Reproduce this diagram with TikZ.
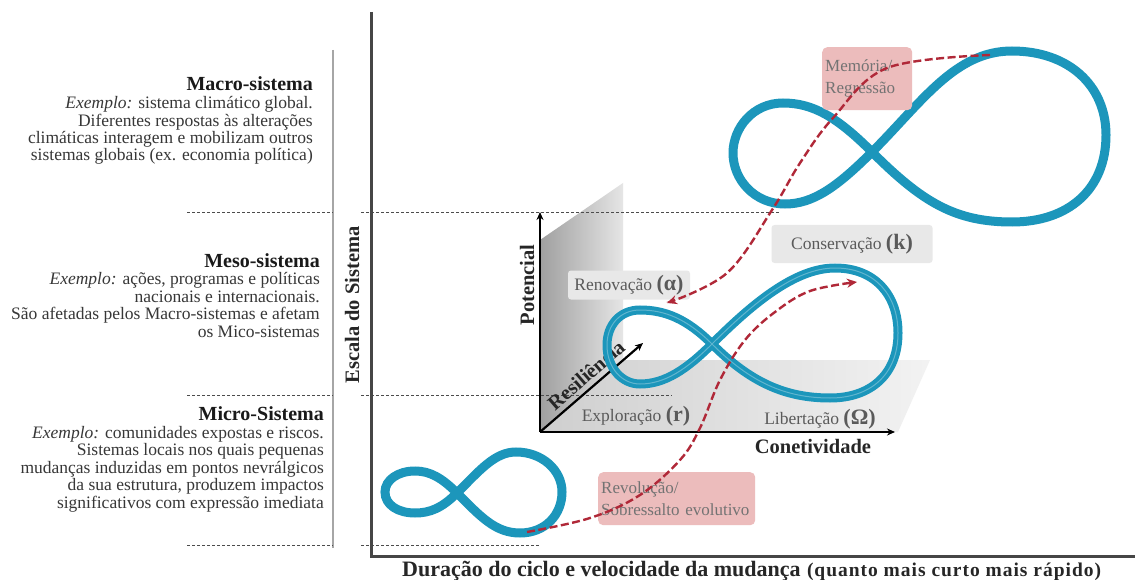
\documentclass[tikz,border=0pt]{standalone}
\usepackage{fontspec}
\setmainfont{Liberation Serif}
\usetikzlibrary{arrows.meta}
\definecolor{loopteal}{RGB}{28,150,187}
\definecolor{cyclered}{RGB}{176,40,56}
\definecolor{pinkbox}{RGB}{236,188,188}
\definecolor{axisgray}{RGB}{70,70,70}
\definecolor{labelgray}{RGB}{90,90,90}
\definecolor{bodygray}{RGB}{55,55,55}

\begin{document}
\begin{tikzpicture}[x=1pt,y=-1pt,
  bodytext/.style={font=\fontsize{17.5}{17.4}\selectfont, align=right, inner sep=0pt, text=bodygray, anchor=base east},
  leveltitle/.style={font=\fontsize{20}{20}\selectfont\bfseries, inner sep=0pt, text=black!90, anchor=base east},
  levelrule/.style={dash pattern=on 3pt off 2pt, line width=0.8pt, black!70},
  cycleloop/.style={line width=9pt, draw=loopteal, line cap=round},
  phasebox/.style={fill=gray!18, rounded corners=3pt, inner sep=4pt, text=labelgray, font=\fontsize{17.5}{18}\selectfont},
  phasetext/.style={inner sep=0pt, text=labelgray, font=\fontsize{17.5}{18}\selectfont},
  transbox/.style={fill=pinkbox, rounded corners=5pt, inner xsep=3pt, inner ysep=6pt, align=left, anchor=north west, text=black!55, font=\fontsize{17}{22}\selectfont},
  crossarrow/.style={draw=cyclered, line width=2.4pt, dash pattern=on 8pt off 3.5pt, -{Stealth[length=10pt,width=9pt]}},
  axislabel/.style={font=\fontsize{20.5}{20.5}\selectfont\bfseries, inner sep=0pt, text=black!85},
  inneraxis/.style={line width=2.2pt, black, -{Stealth[length=8pt,width=7pt]}},
]
\fill[white] (0,0) rectangle (1135,580);
\useasboundingbox (0,0) rectangle (1135,580);

% ---------- scale descriptions on the left (anchored at the last line) ----------
\node[leveltitle] (macrotitle) at (313,91) {Macro-sistema};
\node[bodytext] (macrobody) at (313,161) {\textit{Exemplo:} sistema climático global.\\
Diferentes respostas às alterações\\
climáticas interagem e mobilizam outros\\
sistemas globais (ex. economia política)};

\node[leveltitle] (mesotitle) at (320,267) {Meso-sistema};
\node[bodytext] (mesobody) at (320,337) {\textit{Exemplo:} ações, programas e políticas\\
nacionais e internacionais.\\
São afetadas pelos Macro-sistemas e afetam\\
os Mico-sistemas};

\node[leveltitle] (microtitle) at (324,420) {Micro-Sistema};
\node[bodytext] (microbody) at (324,508) {\textit{Exemplo:} comunidades expostas e riscos.\\
Sistemas locais nos quais pequenas\\
mudanças induzidas em pontos nevrálgicos\\
da sua estrutura, produzem impactos\\
significativos com expressão imediata};

% thin scale rule and its label
\draw[gray!70, line width=1.2pt] (333,50) -- (333,548);
\node[axislabel, rotate=90] (scalelabel) at (352,305) {Escala do Sistema};

% ---------- inner adaptive-cycle frame ----------
\shade[left color=gray!75, right color=gray!20] (540,432) -- (540,240) -- (623,183) -- (623,360) -- cycle;
\shade[left color=gray!38, right color=gray!10] (540,432) -- (623,360) -- (930,360) -- (898,432) -- cycle;

% level boundaries
\draw[levelrule] (187,212) -- (333,212);
\draw[levelrule] (361,212) -- (780,212);
\draw[levelrule] (187,395) -- (333,395);
\draw[levelrule] (361,395) -- (672,395);
\draw[levelrule] (187,545) -- (333,545);
\draw[levelrule] (361,545) -- (540,545);

% main axes
\coordinate (ytop) at (371,12);
\coordinate (corner) at (371,556);
\coordinate (xend) at (1135,556);
\draw[axisgray, line width=3pt] (ytop) -- (corner) -- (xend);

% inner axes
\coordinate (origin) at (540,432);
\coordinate (pottip) at (540,212);
\coordinate (contip) at (895,432);
\coordinate (restip) at (643,343);
\draw[inneraxis] (origin) -- (pottip);
\draw[inneraxis] (origin) -- (contip);
\draw[inneraxis] (origin) -- (restip);
\node[axislabel, rotate=90] (potlabel) at (527,285) {Potencial};
\node[axislabel] (conlabel) at (813,446) {Conetividade};
\node[axislabel, rotate=41] (reslabel) at (586,375) {Resiliência};

% ---------- the three cycles ----------
% macro level
\draw[cycleloop] (872,152) .. controls (922,102) and (955,51) .. (1012,51)
  .. controls (1068,51) and (1106,85) .. (1106,135)
  .. controls (1106,190) and (1068,222) .. (1012,222)
  .. controls (955,222) and (922,202) .. (872,152)
  .. controls (837,117) and (813,103) .. (783,103)
  .. controls (753,103) and (733,128) .. (733,153)
  .. controls (733,180) and (755,204) .. (785,204)
  .. controls (813,204) and (837,187) .. (872,152);

% meso level
\draw[cycleloop] (712,344) .. controls (752,304) and (795,268) .. (835,268)
  .. controls (875,268) and (898,295) .. (898,333)
  .. controls (898,375) and (870,398) .. (830,398)
  .. controls (785,398) and (750,382) .. (712,344)
  .. controls (687,319) and (665,310) .. (640,310)
  .. controls (620,310) and (607,325) .. (607,345)
  .. controls (607,368) and (622,384) .. (640,384)
  .. controls (665,384) and (687,369) .. (712,344);
\draw[white, opacity=0.3, line width=1pt] (712,344) .. controls (752,304) and (795,268) .. (835,268)
  .. controls (875,268) and (898,295) .. (898,333)
  .. controls (898,375) and (870,398) .. (830,398)
  .. controls (785,398) and (750,382) .. (712,344)
  .. controls (687,319) and (665,310) .. (640,310)
  .. controls (620,310) and (607,325) .. (607,345)
  .. controls (607,368) and (622,384) .. (640,384)
  .. controls (665,384) and (687,369) .. (712,344);

% micro level
\draw[cycleloop] (457,493) .. controls (480,470) and (495,452) .. (516,452)
  .. controls (542,452) and (562,470) .. (562,492)
  .. controls (562,515) and (545,533) .. (520,533)
  .. controls (495,533) and (480,516) .. (457,493)
  .. controls (442,478) and (430,471) .. (415,471)
  .. controls (398,471) and (385,480) .. (385,492)
  .. controls (385,505) and (398,513) .. (415,513)
  .. controls (430,513) and (442,508) .. (457,493);

% ---------- phase labels ----------
\node[phasebox, minimum width=122pt, minimum height=29pt] (renov) at (629,285) {Renovação {\fontsize{22}{22}\selectfont\bfseries(α)}};
\node[phasebox, minimum width=161pt, minimum height=38pt] (conserv) at (852,244) {Conservação {\fontsize{22}{22}\selectfont\bfseries(k)}};
\node[phasetext] (explor) at (636,416) {Exploração {\fontsize{22}{22}\selectfont\bfseries(r)}};
\node[phasetext] (liber) at (820,419) {Libertação {\fontsize{22}{22}\selectfont\bfseries(Ω)}};

% transition boxes
\node[transbox, text width=84pt, minimum height=63pt] (memoria) at (822,47) {Memória/\\Regressão};
\node[transbox, text width=151pt, minimum height=53pt] (revol) at (598,472) {Revolução/\\\mbox{Sobressalto evolutivo}};

% ---------- cross-scale links ----------
\coordinate (bigstart) at (990,55);
\coordinate (renovtip) at (667,303);
\coordinate (smallstart) at (527,532);
\coordinate (conservtip) at (857,282);
\draw[crossarrow] plot[smooth, tension=0.6] coordinates {(bigstart) (887,68) (833,118) (800,163) (772,210) (727,273) (renovtip)};
\draw[crossarrow] plot[smooth, tension=0.6] coordinates {(smallstart) (590,518) (640,495) (680,460) (700,428) (720,380) (745,340) (775,312) (810,291) (conservtip)};

% ---------- time axis label ----------
\node[anchor=base west, inner sep=0pt, font=\fontsize{22}{22}\selectfont\bfseries, text=black!85] (timelabel) at (402,576) {Duração do ciclo e velocidade da mudança};
\node[anchor=base west, inner sep=0pt, font=\fontsize{19.5}{19.5}\selectfont\bfseries\addfontfeature{LetterSpace=5}, text=black!85] (timenote) at ([xshift=6pt]timelabel.base east) {(quanto mais curto mais rápido)};
\end{tikzpicture}
\end{document}
